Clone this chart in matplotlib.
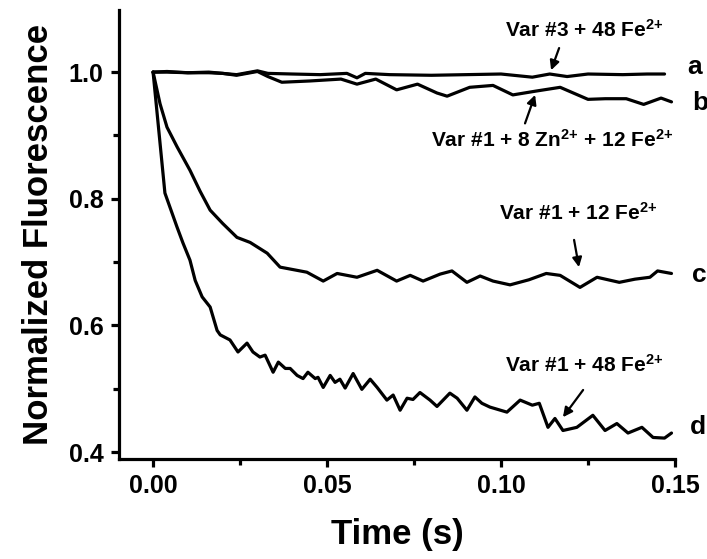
import numpy as np
import matplotlib
matplotlib.use("Agg")
import matplotlib.pyplot as plt
from matplotlib.ticker import MultipleLocator, FormatStrFormatter

plt.rcParams['font.family'] = ['Liberation Sans', 'DejaVu Sans']
plt.rcParams['font.weight'] = 'bold'
plt.rcParams['mathtext.fontset'] = 'custom'
plt.rcParams['mathtext.rm'] = 'Liberation Sans:bold'
plt.rcParams['mathtext.it'] = 'Liberation Sans:bold'
plt.rcParams['mathtext.bf'] = 'Liberation Sans:bold'

# traces (time in s, normalized fluorescence)
t_a = [0, 0.004, 0.010, 0.016, 0.020, 0.024, 0.027, 0.030, 0.033, 0.040, 0.048,
       0.0557, 0.0586, 0.061, 0.068, 0.080, 0.090, 0.100, 0.109, 0.114, 0.119,
       0.125, 0.135, 0.142, 0.147]
y_a = [1.0, 1.001, 0.999, 1.0, 0.998, 0.996, 0.999, 1.002, 0.998, 0.997, 0.996,
       0.998, 0.991, 0.998, 0.996, 0.995, 0.996, 0.997, 0.992, 0.997, 0.993,
       0.997, 0.996, 0.997, 0.997]

t_b = [0, 0.004, 0.010, 0.016, 0.020, 0.024, 0.027, 0.030, 0.033, 0.037, 0.045,
       0.054, 0.0586, 0.064, 0.070, 0.076, 0.0816, 0.0845, 0.091, 0.0977, 0.1034,
       0.110, 0.117, 0.125, 0.130, 0.136, 0.141, 0.146, 0.149]
y_b = [1.0, 1.0, 0.999, 0.999, 0.998, 0.995, 0.998, 1.001, 0.993, 0.984, 0.986,
       0.989, 0.981, 0.989, 0.972, 0.981, 0.967, 0.962, 0.976, 0.979, 0.964,
       0.970, 0.976, 0.957, 0.958, 0.958, 0.949, 0.959, 0.953]

t_c = [0, 0.002, 0.004, 0.0069, 0.0106, 0.0135, 0.0164, 0.020, 0.0241, 0.0279,
       0.0328, 0.0365, 0.0442, 0.0489, 0.0529, 0.0586, 0.0644, 0.070, 0.0739,
       0.0776, 0.0825, 0.0859, 0.0902, 0.094, 0.0977, 0.1026, 0.108, 0.113,
       0.117, 0.1227, 0.1276, 0.134, 0.1385, 0.1428, 0.145, 0.149]
y_c = [1.0, 0.95, 0.913, 0.882, 0.845, 0.812, 0.782, 0.761, 0.739, 0.731,
       0.714, 0.692, 0.684, 0.670, 0.682, 0.676, 0.687, 0.670, 0.679,
       0.670, 0.681, 0.686, 0.668, 0.678, 0.670, 0.664, 0.672, 0.682,
       0.679, 0.660, 0.676, 0.668, 0.673, 0.676, 0.686, 0.682]

t_d = [0, 0.0034, 0.0069, 0.0086, 0.0106, 0.0121, 0.0141, 0.0164, 0.0184, 0.0193,
       0.0221, 0.0244, 0.027, 0.0287, 0.0307, 0.0322, 0.0345, 0.036, 0.038, 0.0394,
       0.0414, 0.0431, 0.0445, 0.0466, 0.0474, 0.0489, 0.0509, 0.0523, 0.0537,
       0.0552, 0.0575, 0.0600, 0.0624, 0.0644, 0.0672, 0.069, 0.071, 0.073,
       0.0747, 0.0767, 0.0796, 0.0816, 0.0853, 0.0874, 0.0902, 0.0925, 0.0945,
       0.0968, 0.1017, 0.1055, 0.109, 0.111, 0.1135, 0.1155, 0.1178, 0.1218,
       0.1264, 0.1299, 0.1333, 0.1365, 0.1405, 0.1437, 0.147, 0.149]
y_d = [1.0, 0.809, 0.755, 0.730, 0.703, 0.671, 0.645, 0.629, 0.592, 0.585,
       0.577, 0.558, 0.572, 0.558, 0.550, 0.553, 0.526, 0.542, 0.532, 0.532,
       0.521, 0.516, 0.526, 0.516, 0.518, 0.502, 0.521, 0.510, 0.515,
       0.501, 0.524, 0.499, 0.515, 0.502, 0.482, 0.490, 0.466, 0.485,
       0.483, 0.494, 0.482, 0.472, 0.493, 0.485, 0.466, 0.487, 0.477,
       0.471, 0.463, 0.482, 0.474, 0.477, 0.439, 0.453, 0.434, 0.439,
       0.458, 0.434, 0.445, 0.430, 0.439, 0.423, 0.422, 0.430]

curve_letters = ['a', 'b', 'c', 'd']
labels = [r'Var #3 + 48 Fe$^{2{+}}$',
          r'Var #1 + 8 Zn$^{2{+}}$ + 12 Fe$^{2{+}}$',
          r'Var #1 + 12 Fe$^{2{+}}$',
          r'Var #1 + 48 Fe$^{2{+}}$']

fig = plt.figure(figsize=(7.07, 5.59), dpi=100)
ax = fig.add_axes([0.1683, 0.1789, 0.7864, 0.8031])

for t, y in [(t_a, y_a), (t_b, y_b), (t_c, y_c), (t_d, y_d)]:
    ax.plot(t, y, color='black', lw=2.3, solid_joinstyle='round',
            solid_capstyle='round')

ax.set_xlim(-0.0098, 0.15)
ax.set_ylim(0.389, 1.098)

for s in ['top', 'right']:
    ax.spines[s].set_visible(False)
for s in ['left', 'bottom']:
    ax.spines[s].set_linewidth(2.3)

ax.xaxis.set_major_locator(MultipleLocator(0.05))
ax.xaxis.set_minor_locator(MultipleLocator(0.025))
ax.xaxis.set_major_formatter(FormatStrFormatter('%.2f'))
ax.yaxis.set_major_locator(MultipleLocator(0.2))
ax.yaxis.set_minor_locator(MultipleLocator(0.1))
ax.yaxis.set_major_formatter(FormatStrFormatter('%.1f'))
ax.tick_params(which='major', length=6, width=2.3, labelsize=18, pad=5)
ax.tick_params(which='minor', length=4, width=2.3)

ax.set_xlabel('Time (s)', fontsize=25, fontweight='bold', labelpad=14)
ax.set_ylabel('Normalized Fluorescence', fontsize=25, fontweight='bold', labelpad=10)

# annotation text, arrow tail, arrow head (data coords)
ann_text = [(0.1239, 1.066), (0.1147, 0.893), (0.1221, 0.777), (0.1239, 0.537)]
ann_tail = [(0.1167, 1.038), (0.1069, 0.919), (0.1210, 0.735), (0.1236, 0.498)]
ann_head = [(0.1144, 1.003), (0.1098, 0.964), (0.1224, 0.692), (0.1178, 0.455)]
for lab, tp, tl, hd in zip(labels, ann_text, ann_tail, ann_head):
    ax.text(tp[0], tp[1], lab, fontsize=15, fontweight='bold', ha='center', va='center')
    ax.annotate('', xy=hd, xytext=tl,
                arrowprops=dict(arrowstyle='-|>', color='black', lw=1.6,
                                mutation_scale=14, shrinkA=0, shrinkB=0))

letter_pos = [(0.1534, 1.008), (0.1549, 0.951), (0.1549, 0.679), (0.1543, 0.439)]
for let, p in zip(curve_letters, letter_pos):
    ax.text(p[0], p[1], let, fontsize=19, fontweight='bold', ha='left', va='center',
            clip_on=False)

fig.savefig('out.png', dpi=100)
